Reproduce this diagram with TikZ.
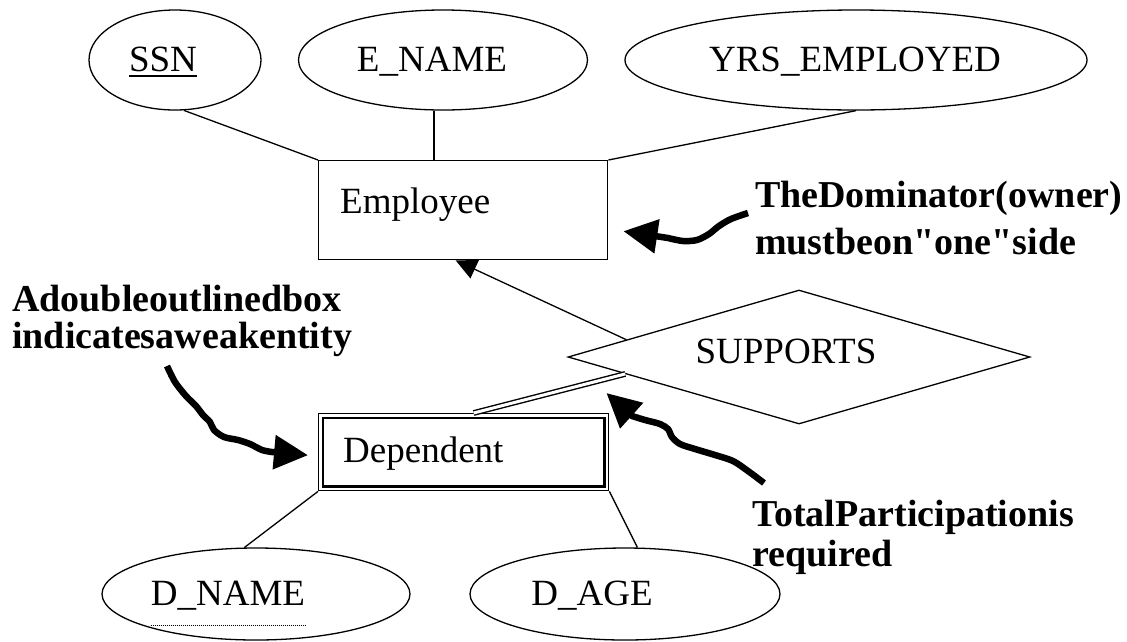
\documentclass[tikz,border=0pt]{standalone}
\usepackage{fontspec}
\setmainfont{Liberation Serif}
% plain family (no TeX ligature mapping) so that " stays a straight quote
\newfontfamily\notefont{Liberation Serif}
\usetikzlibrary{shapes.geometric,arrows.meta,calc}
\begin{document}
\begin{tikzpicture}[x=1pt,y=-1pt,
  attr/.style={ellipse, draw, line width=1.3pt, inner sep=0pt},
  ent/.style={rectangle, draw, line width=1.4pt, inner sep=0pt, fill=white},
  rel/.style={diamond, draw, line width=1.3pt, inner sep=0pt},
  txt/.style={inner sep=0pt, anchor=base, font=\fontsize{37}{40}\selectfont},
  note/.style={inner sep=0pt, anchor=base west, font=\notefont\fontsize{38}{40}\selectfont\bfseries},
  link/.style={line width=1.3pt},
  isa/.style={line width=1.3pt, -{Triangle[length=21pt,width=20pt]}},
  pointer/.style={line width=6.5pt, line join=round, -{Triangle[length=34pt,width=33pt]}},
]
\useasboundingbox (0,0) rectangle (1127,641);

% attributes of Employee
\node[attr, minimum width=172, minimum height=100] (ssn) at (175,60) {};
\node[txt] (ssnt) at (163,71) {SSN};
\draw[line width=1.5pt] ([yshift=-5pt]ssnt.base west) -- ([yshift=-5pt]ssnt.base east);
\node[attr, minimum width=289, minimum height=100] (ename) at (443,60) {};
\node[txt] (enamet) at (432,71) {E\_NAME};
\node[attr, minimum width=462, minimum height=100] (yrs) at (856,60) {};
\node[txt] (yrst) at (855,71) {YRS\_EMPLOYED};

% owner entity
\node[ent, minimum width=289, minimum height=99, anchor=north west] (emp) at (318,160) {};
\node[txt, anchor=base west] (empt) at (340,213) {Employee};

\draw[link] (ssn.-80) -- (emp.north west);
\draw[link] (ename.-100) -- (emp.north -| ename.-100);
\draw[link] (yrs.south) -- (emp.north east);

% relationship
\node[rel, minimum width=462, minimum height=134] (supp) at (799,357) {};
\node[txt] (suppt) at (786,363) {SUPPORTS};

% weak entity (double outline)
\node[ent, minimum width=290, minimum height=77, anchor=north west] (dep) at (318,413) {};
\draw[line width=2.2pt] ($(dep.south west)+(5,-5)$) rectangle ($(dep.north east)+(-5,5)$);
\node[txt, anchor=base west] (dept) at (343,462) {Dependent};

\draw[isa] ($(supp.west)!0.255!(supp.north)$) -- ($(emp.south west)!0.474!(emp.south east)$);
\draw[line width=1.4pt, double, double distance=3pt] ($(supp.west)!0.25!(supp.south)$) -- ($(dep.north west)!0.534!(dep.north east)$);

% attributes of Dependent
\node[attr, minimum width=308, minimum height=92] (dname) at (256,594) {};
\node[txt] (dnamet) at (228,605) {D\_NAME};
\draw[line width=0.9pt, dash pattern=on 1pt off 1pt] ([yshift=-20pt]dnamet.base west) -- ([yshift=-20pt]dnamet.base east);
\node[attr, minimum width=310, minimum height=92] (dage) at (625,594) {};
\node[txt] (daget) at (592,605) {D\_AGE};

\draw[link] (dep.south west) -- (dname.104);
\draw[link] (dep.south east) -- (dage.75);

% notes
\node[note] (domA) at (755,207) {TheDominator(owner)};
\node[note] (domB) at (755,254) {mustbeon"one"side};
\node[note] (weakA) at (12,311) {Adoubleoutlinedbox};
\node[note] (weakB) at (12,348) {indicatesaweakentity};
\node[note] (totA) at (752,526) {TotalParticipationis};
\node[note] (totB) at (752,566) {required};

% hand-drawn pointers
\coordinate (domtip) at ($(emp.east)+(15,21)$);
\draw[pointer] plot[smooth, tension=0.5] coordinates {(748,213) (731,219) (719,226) (709,234) (697,240) (683,241) (668,238)} -- (domtip);
\coordinate (weaktip) at ($(dep.west)+(-10,3)$);
\draw[pointer] plot[smooth, tension=0.5] coordinates {(167,366) (175,382) (186,396) (196,406) (203,415) (210,422) (214,430) (224,437) (238,440) (250,444) (262,450) (272,452)} -- (weaktip);
\coordinate (tottip) at ($(dep.north east)+(-3,-20)$);
\draw[pointer] plot[smooth, tension=0.5] coordinates {(764,483) (748,471) (733,461) (715,455) (695,449) (680,444) (672,437) (668,429) (660,424) (645,420) (632,416)} -- (tottip);
\end{tikzpicture}
\end{document}
